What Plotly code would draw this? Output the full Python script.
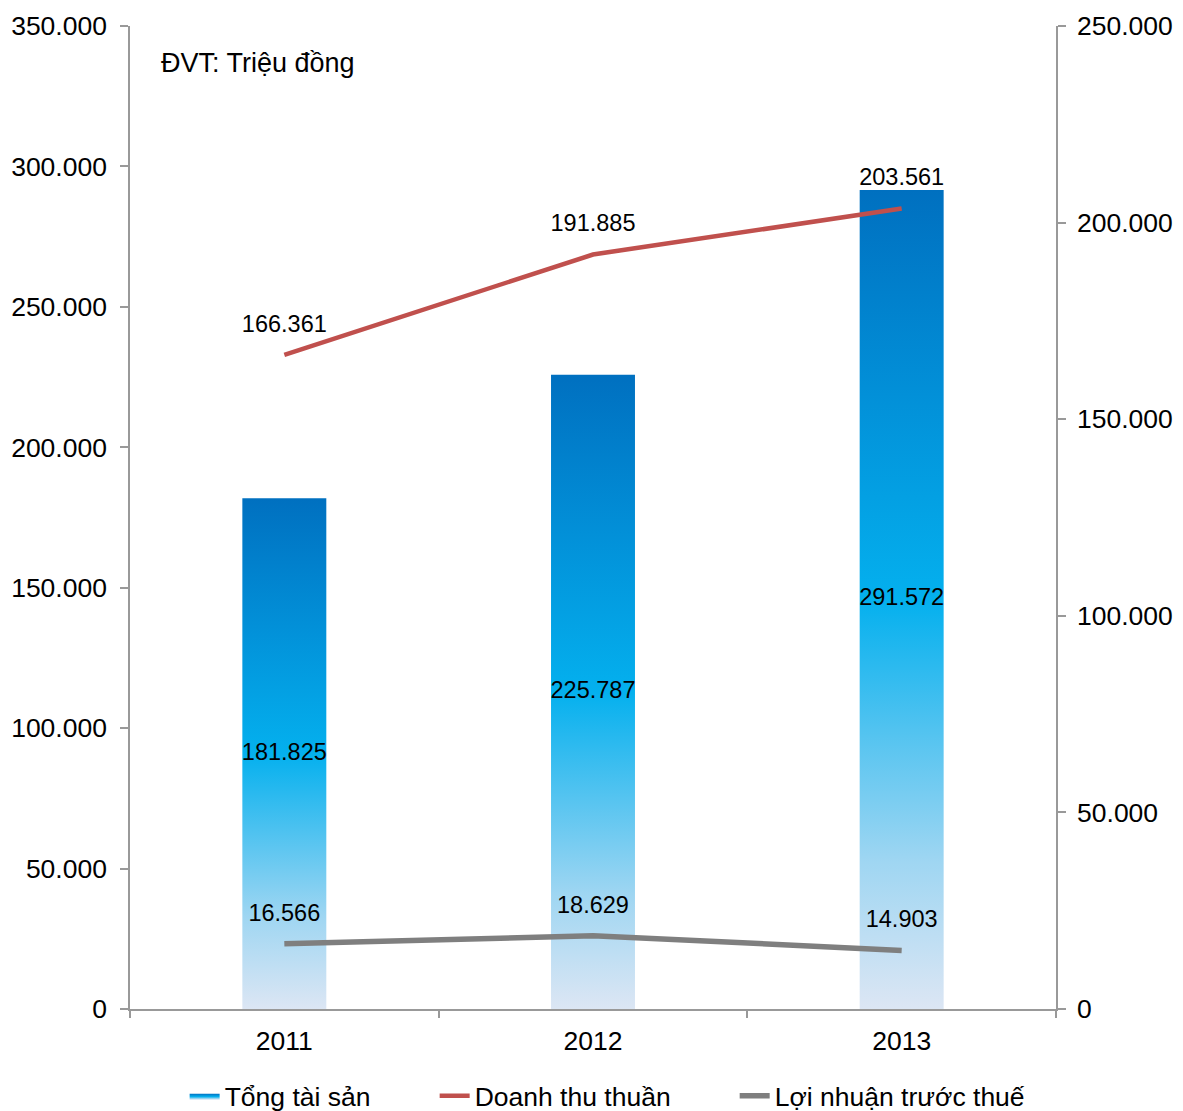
import plotly.graph_objects as go

years = ["2011", "2012", "2013"]
tong_tai_san = [181825, 225787, 291572]
doanh_thu_thuan = [166361, 191885, 203561]
loi_nhuan = [16566, 18629, 14903]

left_ticks = [0, 50000, 100000, 150000, 200000, 250000, 300000, 350000]
right_ticks = [0, 50000, 100000, 150000, 200000, 250000]

FONT = "Liberation Sans, Arial, sans-serif"
AXIS_COLOR = "#999999"
BAR_W = 0.272

xs = list(range(len(years)))
fig = go.Figure()

grad = [[0.0, "#dce6f4"], [0.18, "#9fd6f2"], [0.5, "#04b0ee"], [0.75, "#0290d8"], [1.0, "#0070c0"]]
for i, v in enumerate(tong_tai_san):
    x0, x1 = xs[i] - BAR_W / 2, xs[i] + BAR_W / 2
    fig.add_trace(go.Scatter(
        x=[x0, x1, x1, x0, x0], y=[0, 0, v, v, 0],
        mode="lines", line=dict(width=0), fill="toself",
        fillgradient=dict(type="vertical", colorscale=grad),
        name="Tổng tài sản", legendgroup="tts", showlegend=(i == 0),
        legend="legend", hoverinfo="skip", yaxis="y",
    ))

# labels of the bars, centred vertically inside each bar
fig.add_trace(go.Scatter(
    x=xs, y=[v / 2 for v in tong_tai_san], customdata=tong_tai_san,
    mode="text", texttemplate="%{customdata:,d}", textposition="middle center",
    textfont=dict(family=FONT, size=23.5, color="black"),
    showlegend=False, hoverinfo="skip", yaxis="y",
))

fig.add_trace(go.Scatter(
    x=xs, y=doanh_thu_thuan, name="Doanh thu thuần", yaxis="y2", legend="legend2",
    mode="lines+markers+text", line=dict(color="#c0504d", width=4.5),
    marker=dict(size=26, color="rgba(0,0,0,0)"),
    texttemplate="%{y:,d}", textposition="top center",
    textfont=dict(family=FONT, size=23.5, color="black"),
))
fig.add_trace(go.Scatter(
    x=xs, y=loi_nhuan, name="Lợi nhuận trước thuế", yaxis="y2", legend="legend3",
    mode="lines+markers+text", line=dict(color="#7f7f7f", width=5.5),
    marker=dict(size=26, color="rgba(0,0,0,0)"),
    texttemplate="%{y:,d}", textposition="top center",
    textfont=dict(family=FONT, size=23.5, color="black"),
))

fig.add_annotation(
    text="ĐVT: Triệu đồng", xref="paper", yref="paper", x=0.031, y=0.962,
    xanchor="left", yanchor="middle", showarrow=False,
    font=dict(family=FONT, size=27, color="black"),
)

def leg(xp):
    return dict(orientation="h", x=xp, xanchor="left", y=-0.0885, yanchor="middle",
                font=dict(family=FONT, size=26.5, color="black"),
                bgcolor="rgba(0,0,0,0)")

fig.update_layout(
    width=1183, height=1111,
    margin=dict(l=130, r=127, t=26, b=102, autoexpand=False),
    paper_bgcolor="white", plot_bgcolor="white",
    separators=",.",
    font=dict(family=FONT, size=26.5, color="black"),
    showlegend=True,
    legend=leg(0.059), legend2=leg(0.329), legend3=leg(0.653),
    xaxis=dict(
        range=[-0.5, 2.5], tickmode="array", tickvals=xs, ticktext=years,
        ticks="", showgrid=False, zeroline=False, showline=True, automargin=False,
        linecolor=AXIS_COLOR, linewidth=1.5,
        minor=dict(tickmode="linear", tick0=-0.5, dtick=1, ticks="outside",
                   ticklen=7, tickcolor=AXIS_COLOR, tickwidth=1.5, showgrid=False),
        tickfont=dict(family=FONT, size=26.5), ticklabelstandoff=7,
    ),
    yaxis=dict(
        range=[0, 350000], tickmode="array", tickvals=left_ticks, automargin=False,
        tickformat=",d", ticks="outside", ticklen=8, tickcolor=AXIS_COLOR, tickwidth=1.5,
        showgrid=False, zeroline=False, showline=True, linecolor=AXIS_COLOR, linewidth=1.5,
        tickfont=dict(family=FONT, size=26.5), ticklabelstandoff=8,
    ),
    yaxis2=dict(
        range=[0, 250000], tickmode="array", tickvals=right_ticks, automargin=False,
        tickformat=",d", ticks="outside", ticklen=8, tickcolor=AXIS_COLOR, tickwidth=1.5,
        showgrid=False, zeroline=False, showline=True, linecolor=AXIS_COLOR, linewidth=1.5,
        overlaying="y", side="right", anchor="x",
        tickfont=dict(family=FONT, size=26.5), ticklabelstandoff=6,
    ),
)

fig.write_html("out.html")
